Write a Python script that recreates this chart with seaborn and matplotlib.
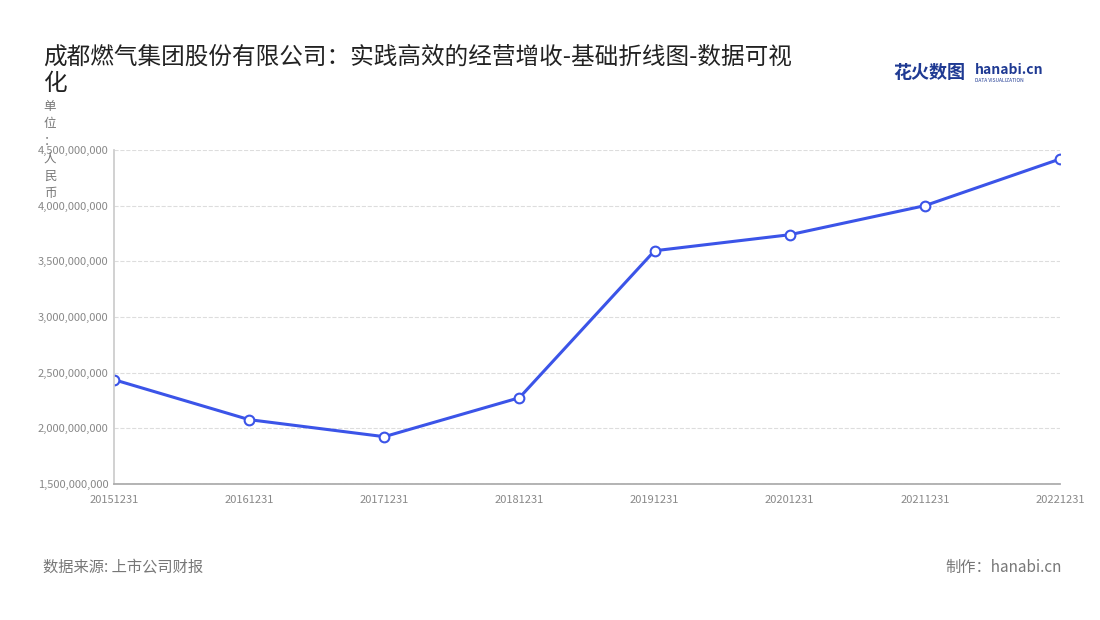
import matplotlib
matplotlib.use("Agg")
import matplotlib.pyplot as plt
import seaborn as sns
import pandas as pd
from matplotlib.ticker import FuncFormatter

years = ["20151231","20161231","20171231","20181231","20191231","20201231","20211231","20221231"]
revenue = [2.437e9, 2.078e9, 1.925e9, 2.275e9, 3.595e9, 3.739e9, 4.0e9, 4.419e9]
yticks = [1.5e9, 2.0e9, 2.5e9, 3.0e9, 3.5e9, 4.0e9, 4.5e9]

sns.set_theme(style="white")
plt.rcParams['font.family'] = ['Noto Sans CJK SC', 'DejaVu Sans']

df = pd.DataFrame({"year": years, "revenue": revenue})
df["x"] = range(len(years))

fig = plt.figure(figsize=(11, 6.2), dpi=100)
ax = fig.add_axes([114/1100, 1-484/620, (1060-114)/1100, (484-150)/620])
sns.lineplot(data=df, x="x", y="revenue", ax=ax, color="#3b54e8", linewidth=2.2,
             marker="o", markersize=7, markerfacecolor="white", markeredgecolor="#3b54e8",
             markeredgewidth=1.5)
ax.set_xlim(0, len(years)-1)
ax.set_ylim(1.5e9, 4.5e9)
ax.set_xticks(range(len(years)))
ax.set_xticklabels(years)
ax.set_yticks(yticks)
ax.yaxis.set_major_formatter(FuncFormatter(lambda v, p: f"{int(v):,}"))
ax.tick_params(axis="both", labelsize=8, colors="#888888", length=0, pad=4)
ax.tick_params(axis="x", length=4, color="#aaaaaa")
ax.set_xlabel(""); ax.set_ylabel("")
for s in ["top", "right"]:
    ax.spines[s].set_visible(False)
ax.spines["left"].set_color("#cccccc")
ax.spines["bottom"].set_color("#aaaaaa")
ax.grid(axis="y", linestyle="--", color="#dddddd", linewidth=0.8)
ax.set_axisbelow(True)

fig.text(43/1100, 1-70/620, "成都燃气集团股份有限公司：实践高效的经营增收-基础折线图-数据可视\n化",
         fontsize=17, color="#222222", va="center", linespacing=1.2)
fig.text(50/1100, 1-150/620, "单\n位\n：\n人\n民\n币", fontsize=9, color="#777777",
         ha="center", va="center", linespacing=1.45)
fig.text(893/1100, 1-72/620, "花火数图", fontsize=13, color="#1f3a93", weight="bold", va="center")
fig.text(975/1100, 1-70/620, "hanabi.cn", fontsize=10, color="#1f3a93", weight="bold", va="center")
fig.text(975/1100, 1-81/620, "DATA VISUALIZATION", fontsize=3.5, color="#1f3a93", va="center")
fig.text(43/1100, 1-567/620, "数据来源: 上市公司财报", fontsize=11, color="#777777", va="center")
fig.text(1062/1100, 1-567/620, "制作：hanabi.cn", fontsize=11, color="#777777", va="center", ha="right")

fig.savefig("out.png", dpi=100)
